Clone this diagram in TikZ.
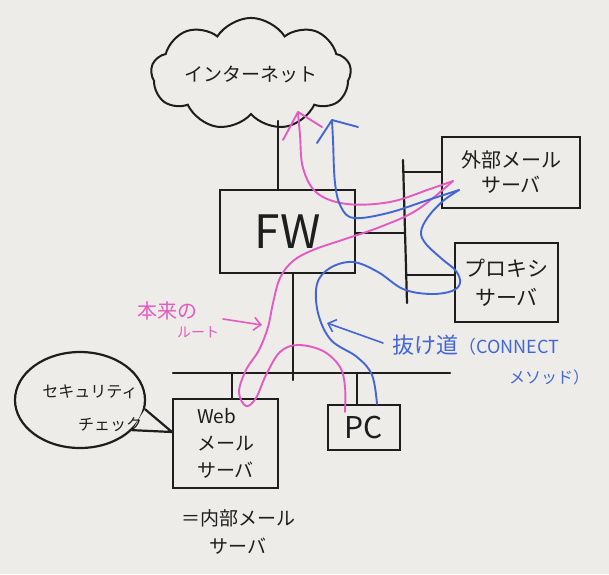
\documentclass[tikz,border=0pt]{standalone}
\usepackage{fontspec}
\setmainfont{Noto Sans CJK JP}
\usetikzlibrary{shapes.symbols,shapes.geometric,arrows.meta,calc}
\definecolor{paper}{HTML}{EDECE9}
\definecolor{mag}{HTML}{E35BC0}
\definecolor{blu}{HTML}{4466D4}
\definecolor{ink}{HTML}{1E1E1E}
\tikzset{
  box/.style={draw=ink, line width=2.2pt, inner sep=0pt, align=center, text=ink},
  wire/.style={draw=ink, line width=2.2pt, line cap=round},
  mroute/.style={draw=mag, line width=1.9pt, line cap=round, line join=round},
  broute/.style={draw=blu, line width=1.9pt, line cap=round, line join=round},
  lblarrow/.style={line width=1.6pt, line cap=round, -{Straight Barb[length=7pt,width=13pt,line width=1.6pt]}},
}
\begin{document}
\begin{tikzpicture}[x=1pt,y=-1pt]
\fill[paper] (0,0) rectangle (609,574);
\useasboundingbox (0,0) rectangle (609,574);

% cloud
\node[cloud, draw=ink, line width=2pt, cloud puffs=9, cloud puff arc=115, aspect=2.3,
      minimum width=200pt, minimum height=86pt, inner sep=0pt,
      font=\fontsize{19}{24}\selectfont, text=ink] (net) at (251,74) {インターネット};

% boxes
\node[box, minimum width=135pt, minimum height=83pt, font=\fontsize{46}{50}\selectfont] (fw) at (287.5,231.5) {FW};
\node[box, minimum width=138pt, minimum height=71pt, font=\fontsize{20}{25}\selectfont] (ext) at (511,172.5) {外部メール\\サーバ};
\node[box, minimum width=103pt, minimum height=79pt, font=\fontsize{21}{29}\selectfont] (proxy) at (506.5,282.5) {プロキシ\\サーバ};
\node[box, minimum width=105pt, minimum height=89pt, align=left, font=\fontsize{19}{27}\selectfont] (web) at (225.5,443.5) {Web\\メール\\サーバ};
\node[box, minimum width=72pt, minimum height=45pt, font=\fontsize{30}{32}\selectfont] (pc) at (364,427.5) {PC};
\node[text=ink, font=\fontsize{19}{28}\selectfont, align=center] (inner) at (238,532) {＝内部メール\\サーバ};

% speech bubble
\node[ellipse, draw=ink, line width=2.2pt, minimum width=130pt, minimum height=96pt] (bub) at (80,400) {};
\coordinate (tt) at (172,432);
\filldraw[draw=ink, fill=paper, line width=2.2pt, line join=round] (bub.-8) -- (tt) -- (bub.-30);
\node[text=ink, font=\fontsize{16}{18}\selectfont] (sec) at (90,392) {セキュリティ};
\node[text=ink, font=\fontsize{16}{18}\selectfont] (chk) at (110,425) {チェック};

% wiring
\coordinate (up) at (278,121);
\draw[wire] (fw.north -| up) -- (up);
\coordinate (bl) at (173,373);
\coordinate (br) at (450,373);
\draw[wire] (bl) -- (br);
\coordinate (fwdrop) at (293,380);
\draw[wire] (fw.south -| fwdrop) -- (fwdrop);
\coordinate (wb) at (232,373);
\draw[wire] (wb) -- (web.north -| wb);
\coordinate (pb) at (357,373);
\draw[wire] (pb) -- (pc.north -| pb);
\coordinate (rt) at (403,160);
\coordinate (rb) at (407,303);
\draw[wire] (rt) -- (rb);
\coordinate (rf) at (405,233);
\draw[wire] (fw.east |- rf) -- (rf);
\coordinate (re) at (403,172);
\draw[wire] (re) -- (ext.west |- re);
\coordinate (rp) at (406,275);
\draw[wire] (rp) -- (proxy.west |- rp);

% magenta route
\draw[mroute] plot[smooth, tension=0.6] coordinates {(345,412) (345,387) (340,367) (323,351) (298,345) (280,352) (266,375) (256,398) (246,406) (239,392) (246,370) (259,350) (268,327) (273,303) (280,278) (293,261) (313,250) (342,240) (380,227) (417,210) (453,181)};
\draw[mroute] plot[smooth, tension=0.6] coordinates {(453,181) (430,189) (390,202) (347,204) (317,193) (303,168) (300,135) (298,113)};
\coordinate (mtip) at (298,112);
\draw[mroute] ($(mtip)+(-15,28)$) -- (mtip) -- ($(mtip)+(24,15)$);

% blue route
\draw[broute] plot[smooth, tension=0.6] coordinates {(377,404) (372,375) (357,357) (331,340) (318,313) (317,284) (330,268) (353,262) (378,272) (403,289) (430,294) (452,291) (460,283) (456,271) (442,259) (426,244) (421,232) (428,217) (443,201) (459,190)};
\draw[broute] plot[smooth, tension=0.6] coordinates {(459,190) (428,200) (388,213) (354,218) (341,207) (335,183) (333,140) (332,121)};
\coordinate (btip) at (332,120);
\draw[broute] ($(btip)+(-15,23)$) -- (btip) -- ($(btip)+(26,7)$);

% labels
\node[text=mag, font=\fontsize{20}{22}\selectfont] (hon) at (167,311) {本来の};
\node[text=mag, font=\fontsize{14}{16}\selectfont] (root) at (198,332) {ルート};
\coordinate (ma1) at (223,319);
\coordinate (ma2) at (262,325);
\draw[mag, lblarrow] (ma1) -- (ma2);

\node[text=blu, anchor=west, inner sep=0pt] (nuke) at (392,345) {\fontsize{22}{24}\selectfont 抜け道\fontsize{18}{20}\selectfont （CONNECT};
\node[text=blu, font=\fontsize{16}{18}\selectfont] (meth) at (549,377) {メソッド）};
\coordinate (ba1) at (383,343);
\coordinate (ba2) at (327,323);
\draw[blu, lblarrow] (ba1) -- (ba2);
\end{tikzpicture}
\end{document}
